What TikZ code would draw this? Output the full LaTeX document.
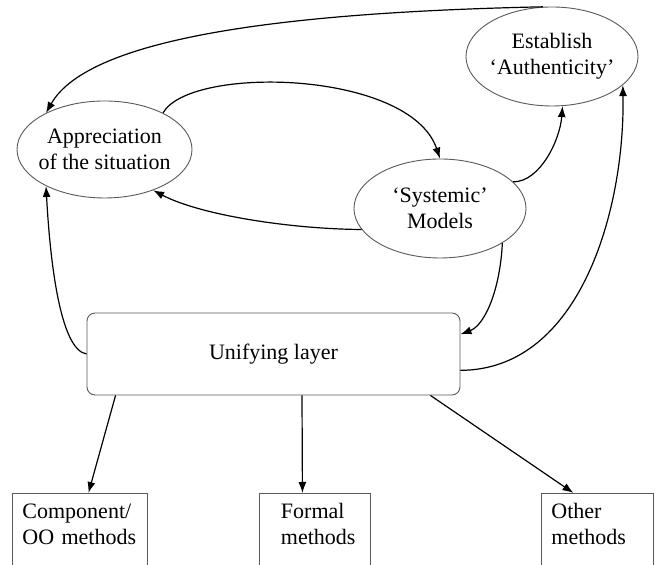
\documentclass[tikz,border=0pt]{standalone}
\usepackage{fontspec}
\setmainfont{Liberation Serif}
\usepackage{tikz}
\usetikzlibrary{shapes, arrows.meta, positioning, calc}

\begin{document}
\begin{tikzpicture}[x=0.5pt, y=-0.5pt,
	every node/.style={font=\fontsize{11pt}{13pt}\selectfont, align=center},
	idea/.style={ellipse, draw=black!65, line width=0.45pt, inner xsep=-3pt, inner ysep=0pt},
	layer/.style={rectangle, rounded corners=4pt, draw=black!65, line width=0.45pt, minimum width=186.5pt, minimum height=41pt},
	methodbox/.style={rectangle, draw=black!65, line width=0.45pt, anchor=north west, align=left, inner sep=5pt, text depth=40pt},
	arr/.style={-{Latex[length=5.5pt, width=4pt]}, line width=0.6pt}]

	\useasboundingbox (0,0) rectangle (655,565);
	\clip (0,0) rectangle (655,565);

	% the three ideas
	\node [idea, minimum width=87.5pt, minimum height=48.5pt] (appr) at (104.5,149.5) {Appreciation\\of the situation};
	\node [idea, minimum width=86pt, minimum height=49.5pt] (sys) at (440,208.5) {‘Systemic’\\Models};
	\node [idea, minimum width=86pt, minimum height=49.5pt] (est) at (552,56.5) {Establish\\‘Authenticity’};

	% layer and methods
	\node [layer] (uni) at (273.5,354) {Unifying layer};
	\node [methodbox, text width=57.5pt] (comp) at (12,493) {Component/\\OO methods};
	\node [methodbox, text width=34pt, inner xsep=10.75pt] (formal) at (259,493) {Formal\\methods};
	\node [methodbox, text width=46pt] (other) at (541,493) {Other\\methods};

	\draw [arr] (est.100) .. controls (300,12) and (90,35) .. (appr.148);
	\draw [arr] (appr.32) .. controls (190,65) and (410,70) .. (sys.north);
	\draw [arr] (sys.195) .. controls (290,229) and (200,215) .. (appr.-40);
	\draw [arr] (sys.20) .. controls (540,182) and (560,140) .. (est.-78);
	\draw [arr] (sys.-29) .. controls (500,290) and (485,325) .. (uni.6);
	\draw [arr] (uni.-5) .. controls (580,370) and (625,210) .. (est.-22);
	\draw [arr] (uni.west) .. controls (60,350) and (50,260) .. (appr.212);

	\draw [arr] ([xshift=14.5pt]uni.south west) -- ([xshift=4.25pt]comp.north);
	\draw [arr] ([xshift=14.25pt]uni.south) -- ([xshift=-6.25pt]formal.north);
	\draw [arr] ([xshift=-15pt]uni.south east) -- ([xshift=-12pt]other.north);
\end{tikzpicture}
\end{document}
